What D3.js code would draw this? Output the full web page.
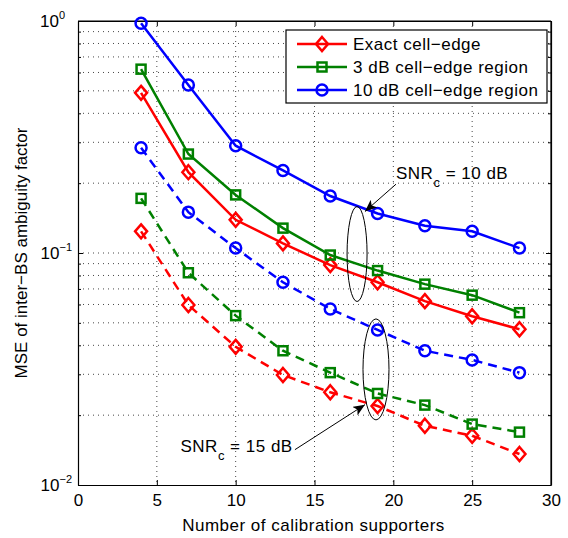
<!DOCTYPE html>
<html>
<head>
<meta charset="utf-8">
<script src="https://cdn.jsdelivr.net/npm/d3@7"></script>
<style>
  body { margin: 0; background: #fff; }
  svg { font-family: "Liberation Sans", Arial, Helvetica, sans-serif; }
</style>
</head>
<body>
<svg id="chart" width="568" height="538"></svg>
<script>
// calibration supporters on the x axis
var supporters = [4, 7, 10, 13, 16, 19, 22, 25, 28];

// SNRc = 10 dB (solid)
var exact10 = [0.49, 0.223, 0.139, 0.110, 0.0887, 0.0748, 0.062, 0.0534, 0.0469];
var region3_10 = [0.62, 0.267, 0.178, 0.128, 0.098, 0.084, 0.0734, 0.0658, 0.0553];
var region10_10 = [0.977, 0.53, 0.29, 0.227, 0.176, 0.148, 0.131, 0.124, 0.105];

// SNRc = 15 dB (dashed)
var exact15 = [0.124, 0.0597, 0.0394, 0.0298, 0.0251, 0.0219, 0.018, 0.0163, 0.0136];
var region3_15 = [0.172, 0.0822, 0.0537, 0.0379, 0.0305, 0.0248, 0.0221, 0.0183, 0.0169];
var region10_15 = [0.284, 0.150, 0.105, 0.0748, 0.0574, 0.0466, 0.0379, 0.0346, 0.0305];

var xTicks = [0, 5, 10, 15, 20, 25, 30];
var yTicks = [1e-2, 1e-1, 1];
var yTickExp = ["\u22122", "\u22121", "0"];
var legendNames = ["Exact cell\u2212edge", "3 dB cell\u2212edge region", "10 dB cell\u2212edge region"];

var svg = d3.select("#chart"),
    margin = {left: 78, right: 17, top: 21, bottom: 53},
    width = +svg.attr("width") - margin.left - margin.right,
    height = +svg.attr("height") - margin.top - margin.bottom;

var x = d3.scaleLinear().domain([0, 30]).range([0, width]);
var y = d3.scaleLog().domain([1e-2, 1]).range([height, 0]);

var g = svg.append("g").attr("transform", "translate(" + margin.left + "," + margin.top + ")");

// minor log values for grid
var minor = [];
[0.01, 0.1].forEach(function(b) {
    for (var k = 2; k <= 9; ++k) minor.push(b * k);
});

var gridStyle = function(sel) {
    sel.attr("stroke", "#333").attr("stroke-width", 0.9).attr("stroke-dasharray", "1,4");
};

g.append("g").selectAll("line")
    .data(xTicks.slice(1, -1))
    .enter().append("line")
    .attr("x1", function(d) { return x(d); }).attr("x2", function(d) { return x(d); })
    .attr("y1", 0).attr("y2", height)
    .call(gridStyle);

g.append("g").selectAll("line")
    .data(minor.concat([0.1]))
    .enter().append("line")
    .attr("x1", 0).attr("x2", width)
    .attr("y1", function(d) { return y(d); }).attr("y2", function(d) { return y(d); })
    .call(gridStyle);

// axes (box with inward ticks)
var xAxisB = d3.axisBottom(x).tickValues(xTicks).tickSizeInner(-5).tickSizeOuter(0).tickPadding(9);
var xAxisT = d3.axisTop(x).tickValues(xTicks).tickSizeInner(-5).tickSizeOuter(0).tickFormat("");
var yAxisL = d3.axisLeft(y).tickValues(yTicks.concat(minor)).tickSizeOuter(0).tickFormat("");
var yAxisR = d3.axisRight(y).tickValues(yTicks.concat(minor)).tickSizeOuter(0).tickFormat("");

var gxb = g.append("g").attr("transform", "translate(0," + height + ")").call(xAxisB);
g.append("g").call(xAxisT);
var gyl = g.append("g").call(yAxisL);
var gyr = g.append("g").attr("transform", "translate(" + width + ",0)").call(yAxisR);

gyl.selectAll(".tick line").attr("x2", function(d) { return yTicks.indexOf(d) >= 0 ? 5 : 3; });
gyr.selectAll(".tick line").attr("x2", function(d) { return yTicks.indexOf(d) >= 0 ? -5 : -3; });

svg.selectAll(".domain").attr("stroke", "#000").attr("stroke-width", 1.2);
svg.selectAll(".tick line").attr("stroke", "#000");
gxb.selectAll("text").attr("font-size", 17).attr("fill", "#000").attr("font-family", null);
g.append("line").attr("x1", 0).attr("x2", width).attr("y1", 0).attr("y2", 0).attr("stroke", "#000").attr("stroke-width", 1.2);
g.append("line").attr("x1", width).attr("x2", width).attr("y1", 0).attr("y2", height).attr("stroke", "#000").attr("stroke-width", 1.2);

// y tick labels 10^k
var yl = g.append("g").selectAll("text")
    .data(yTicks)
    .enter().append("text")
    .attr("y", function(d) { return y(d) + 6; })
    .attr("text-anchor", "end")
    .attr("font-size", 17);
yl.append("tspan").text("10");
yl.append("tspan").attr("dy", -8).attr("font-size", 11).text(function(d, i) { return yTickExp[i]; });
yl.attr("x", function(d, i) { return i < 2 ? -6 : -13; });

// axis titles
svg.append("text")
    .attr("x", margin.left + width / 2 - 1)
    .attr("y", 531)
    .attr("text-anchor", "middle")
    .attr("font-size", 17)
    .attr("letter-spacing", 0.5)
    .text("Number of calibration supporters");

svg.append("text")
    .attr("transform", "translate(27," + (margin.top + height / 2) + ") rotate(-90)")
    .attr("text-anchor", "middle")
    .attr("font-size", 17)
    .text("MSE of inter\u2212BS ambiguity factor");

// series
var colors = ["#ff0000", "#008000", "#0000ff"];
var markers = ["diamond", "square", "circle"];
var series = [
    {vals: exact10, c: 0, dash: null},
    {vals: region3_10, c: 1, dash: null},
    {vals: region10_10, c: 2, dash: null},
    {vals: exact15, c: 0, dash: "9,6"},
    {vals: region3_15, c: 1, dash: "9,6"},
    {vals: region10_15, c: 2, dash: "9,6"}
];

var line = d3.line()
    .x(function(d) { return x(d[0]); })
    .y(function(d) { return y(d[1]); });

function drawMarker(sel, kind, color) {
    if (kind === "circle") {
        sel.append("circle").attr("r", 5.5);
    } else if (kind === "square") {
        sel.append("rect").attr("x", -4.5).attr("y", -4.5).attr("width", 9).attr("height", 9);
    } else {
        sel.append("path").attr("d", "M0,-7L6,0L0,7L-6,0Z");
    }
    sel.selectAll("circle,rect,path")
        .attr("fill", "none").attr("stroke", color).attr("stroke-width", 2.5);
}

series.forEach(function(s) {
    var pts = supporters.map(function(v, i) { return [v, s.vals[i]]; });
    g.append("path")
        .datum(pts)
        .attr("d", line)
        .attr("fill", "none")
        .attr("stroke", colors[s.c])
        .attr("stroke-width", 2.5)
        .attr("stroke-dasharray", s.dash);
    g.append("g").selectAll("g")
        .data(pts)
        .enter().append("g")
        .attr("transform", function(d) { return "translate(" + x(d[0]) + "," + y(d[1]) + ")"; })
        .each(function() { drawMarker(d3.select(this), markers[s.c], colors[s.c]); });
});

// legend
var leg = svg.append("g").attr("transform", "translate(286,30)");
leg.append("rect").attr("width", 261).attr("height", 73)
    .attr("fill", "#fff").attr("stroke", "#000").attr("stroke-width", 1.2);
legendNames.forEach(function(name, i) {
    var row = leg.append("g").attr("transform", "translate(0," + (14 + i * 23) + ")");
    row.append("line").attr("x1", 11).attr("x2", 61).attr("stroke", colors[i]).attr("stroke-width", 2.5);
    var m = row.append("g").attr("transform", "translate(36,0)");
    drawMarker(m, markers[i], colors[i]);
    row.append("text").attr("x", 67).attr("y", 6).attr("font-size", 17)
        .attr("letter-spacing", 0.5).text(name);
});

// annotations
var ann = g.append("g");
ann.append("ellipse")
    .attr("cx", x(17.7)).attr("cy", y(0.099))
    .attr("rx", 10).attr("ry", 47.5)
    .attr("fill", "none").attr("stroke", "#000").attr("stroke-width", 1);
ann.append("ellipse")
    .attr("cx", x(18.9)).attr("cy", y(0.0315))
    .attr("rx", 13).attr("ry", 50.5)
    .attr("fill", "none").attr("stroke", "#000").attr("stroke-width", 1);

svg.append("defs").append("marker")
    .attr("id", "arrow").attr("viewBox", "0 0 12 10")
    .attr("refX", 12).attr("refY", 5)
    .attr("markerWidth", 12).attr("markerHeight", 10)
    .attr("markerUnits", "userSpaceOnUse")
    .attr("orient", "auto")
    .append("path").attr("d", "M0,0L12,5L0,10L3,5Z").attr("fill", "#000");

ann.append("line")
    .attr("x1", x(20.17)).attr("y1", y(0.198))
    .attr("x2", x(18.2)).attr("y2", y(0.151))
    .attr("stroke", "#000").attr("stroke-width", 1)
    .attr("marker-end", "url(#arrow)");
ann.append("line")
    .attr("x1", x(13.76)).attr("y1", y(0.0142))
    .attr("x2", x(18.2)).attr("y2", y(0.0222))
    .attr("stroke", "#000").attr("stroke-width", 1)
    .attr("marker-end", "url(#arrow)");

function snrLabel(xv, yv, db) {
    var t = ann.append("text").attr("x", x(xv)).attr("y", y(yv)).attr("font-size", 17)
        .attr("letter-spacing", 0.5);
    t.append("tspan").text("SNR");
    t.append("tspan").attr("dy", 8).attr("font-size", 13).text("c");
    t.append("tspan").attr("dy", -8).text(" = " + db + " dB");
}
snrLabel(20.17, 0.209, 10);
snrLabel(6.5, 0.0139, 15);
</script>
</body>
</html>
